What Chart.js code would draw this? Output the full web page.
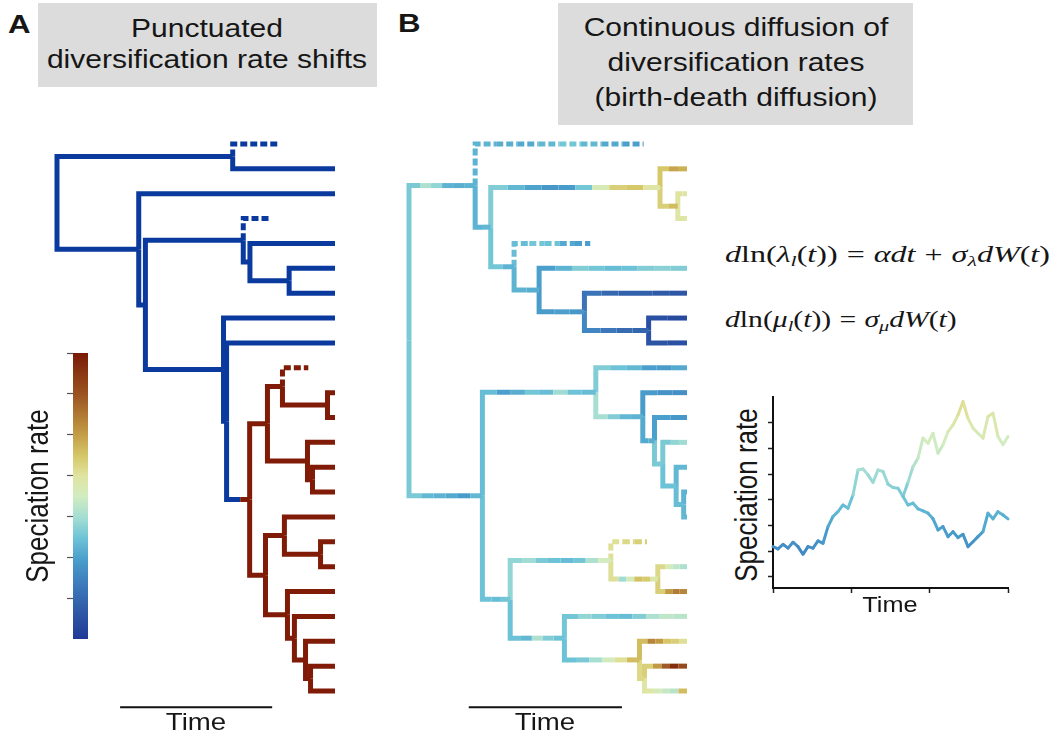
<!DOCTYPE html>
<html>
<head>
<meta charset="utf-8">
<title>Punctuated vs continuous diversification rates</title>
<script src="https://cdn.jsdelivr.net/npm/chart.js@4.4.1/dist/chart.umd.min.js"></script>
<style>
  html, body { margin: 0; padding: 0; background: #fff; }
  #fig { position: relative; width: 1055px; height: 737px; overflow: hidden; font-family: "Liberation Sans", Arial, sans-serif; color: #161616; }
  #fig canvas { position: absolute; }
  .box { position: absolute; background: #dcdcdc; }
  .lbl { position: absolute; white-space: nowrap; line-height: 1; }
  .panel { font-weight: bold; font-size: 26px; transform-origin: 0 0; transform: scaleX(1.2); }
  .title { font-size: 25px; text-align: center; transform: translateX(-50%) scaleX(1.2); }
  .ctr { transform: translateX(-50%) scaleX(1.15); }
  .vert { font-size: 26px; transform: translate(-50%, -50%) rotate(-90deg) scaleY(1.2); }
  .eq { font-family: "Liberation Serif", "DejaVu Serif", serif; font-size: 23px; transform-origin: 0 0; }
  .eq i { font-style: italic; }
  .eq sub { font-size: 0.68em; vertical-align: -0.25em; line-height: 0; }
  .eq .op { margin: 0 0.28em; }
</style>
</head>
<body>
<div id="fig">
  <div class="box" style="left:38px;top:3px;width:339px;height:84px"></div>
  <div class="box" style="left:558px;top:3px;width:355px;height:122px"></div>
  <div class="lbl panel" style="left:8px;top:11px">A</div>
  <div class="lbl panel" style="left:398px;top:10px">B</div>
  <div class="lbl title" style="left:207px;top:12.6px;line-height:31.5px">Punctuated<br>diversification rate shifts</div>
  <div class="lbl title" style="left:736px;top:10px;line-height:35px">Continuous diffusion of<br>diversification rates<br>(birth-death diffusion)</div>

  <canvas id="treeA" width="298" height="590" style="left:47px;top:134px"></canvas>
  <canvas id="treeB" width="298" height="590" style="left:399px;top:134px"></canvas>
  <canvas id="cbar" width="30" height="306" style="left:60px;top:343px"></canvas>
  <canvas id="inset" width="246" height="202" style="left:767px;top:392px"></canvas>

  <div class="lbl vert" style="left:37px;top:496px">Speciation rate</div>
  <div class="lbl vert" style="left:746px;top:495px">Speciation rate</div>
  <div class="lbl ctr" style="left:196px;top:710px;font-size:24px">Time</div>
  <div class="lbl ctr" style="left:545px;top:710px;font-size:24px">Time</div>
  <div class="lbl ctr" style="left:890px;top:594px;font-size:22px">Time</div>

  <div class="lbl eq" id="eq1" style="left:725px;top:242.7px"><i>d</i>ln(<i>λ</i><sub><i>l</i></sub>(<i>t</i>))<span class="op">=</span><i>αdt</i><span class="op">+</span><i>σ</i><sub><i>λ</i></sub><i>dW</i>(<i>t</i>)</div>
  <div class="lbl eq" id="eq2" style="left:725px;top:307.7px"><i>d</i>ln(<i>μ</i><sub><i>l</i></sub>(<i>t</i>))<span class="op">=</span><i>σ</i><sub><i>μ</i></sub><i>dW</i>(<i>t</i>)</div>
</div>

<script>
// ---- Panel A tree: parent of each node and its time (root = 0, present = 100)
const parentA = [-1, 0, 1, 1, 0, 4, 4, 6, 7, 7, 9, 9, 11, 11, 6, 14, 14, 16, 16, 18, 19, 20, 20, 22, 22, 19, 25, 25, 27, 27, 18, 30, 31, 31, 33, 33, 30, 36, 36, 38, 38, 40, 40, 42, 42];
const timeA = [0, 63.2, 79.6, 100, 29.4, 100, 31.8, 67.0, 76.4, 69.4, 100, 83.5, 100, 100, 59.9, 100, 61.0, 100, 69.3, 75.7, 81.1, 90.4, 97.3, 100, 100, 90.1, 100, 91.9, 100, 100, 75.0, 81.8, 100, 94.8, 100, 100, 82.9, 100, 85.4, 100, 89.4, 100, 91.2, 100, 100];
// 0 = background regime, 1 = shifted regime
const regimeA = [0, 0, 0, 0, 0, 0, 0, 0, 0, 0, 0, 0, 0, 0, 0, 0, 0, 0, 1, 1, 1, 1, 1, 1, 1, 1, 1, 1, 1, 1, 1, 1, 1, 1, 1, 1, 1, 1, 1, 1, 1, 1, 1, 1, 1];
const shiftNodeA = 18;
const shiftTimeA = 65.9;
const extinctA = [2, 8, 21];
const scaleBarA = [22.7, 77.4];

// ---- Panel B tree
const parentB = [-1, 0, 1, 1, 3, 4, 4, 6, 6, 3, 9, 9, 11, 11, 13, 13, 15, 15, 0, 18, 19, 19, 21, 21, 23, 23, 25, 25, 27, 27, 29, 29, 18, 32, 33, 33, 35, 35, 32, 38, 38, 40, 40, 42, 42];
const timeB = [0, 23.8, 84.4, 29.4, 90.3, 100, 96.7, 100, 100, 37.8, 65.2, 46.8, 100, 63.1, 100, 86.2, 100, 100, 26.4, 67.2, 100, 84.1, 100, 88.3, 100, 91.3, 100, 96.1, 100, 98.8, 100, 100, 36.4, 72.6, 85.6, 89.5, 100, 100, 55.9, 100, 82.9, 100, 84.7, 100, 100];
const extinctB = [2, 10, 34];
const scaleBarB = [21.5, 76.6];
// speciation rate (0 = lowest, 1 = highest) read along each branch, root to tip
const ratesB = [
  [],
  [0.37, 0.44, 0.40, 0.32, 0.31, 0.32],
  [0.32, 0.31, 0.30, 0.33, 0.36, 0.33, 0.30, 0.28],
  [0.32, 0.33],
  [0.38, 0.33, 0.29, 0.26, 0.27, 0.36, 0.52, 0.62, 0.64, 0.56],
  [0.64, 0.70, 0.68],
  [0.62, 0.66],
  [0.57, 0.56],
  [0.56, 0.56],
  [0.36, 0.32],
  [0.34, 0.36, 0.35, 0.30, 0.28],
  [0.32, 0.31],
  [0.28, 0.32, 0.38, 0.36, 0.34, 0.35, 0.38, 0.39, 0.38],
  [0.27, 0.28, 0.26],
  [0.17, 0.14, 0.12, 0.12, 0.10, 0.09],
  [0.22, 0.18, 0.15, 0.13],
  [0.07, 0.05],
  [0.08, 0.07],
  [0.37, 0.33, 0.32, 0.30, 0.27, 0.33],
  [0.34, 0.28, 0.31, 0.36, 0.34, 0.42, 0.35, 0.34],
  [0.38, 0.35, 0.33, 0.28, 0.27, 0.30],
  [0.43, 0.38, 0.33, 0.32],
  [0.27, 0.25, 0.24],
  [0.30, 0.31],
  [0.28, 0.26],
  [0.37],
  [0.37, 0.40, 0.42],
  [0.35],
  [0.33],
  [0.34],
  [0.32],
  [0.33],
  [0.35, 0.34, 0.36],
  [0.40, 0.42, 0.37, 0.35, 0.34, 0.36, 0.44, 0.50],
  [0.58, 0.60, 0.62],
  [0.58, 0.42, 0.52, 0.65, 0.63, 0.55],
  [0.60, 0.52, 0.47, 0.44],
  [0.62, 0.72, 0.78, 0.76],
  [0.35, 0.33, 0.44, 0.38, 0.35],
  [0.36, 0.40, 0.38, 0.35, 0.34, 0.38, 0.44, 0.47, 0.46],
  [0.35, 0.37, 0.43, 0.50, 0.58, 0.66],
  [0.66, 0.76, 0.72, 0.64, 0.62, 0.58],
  [0.60],
  [0.62, 0.72, 0.84, 0.95, 0.88],
  [0.56, 0.52, 0.48, 0.46, 0.66]
];

// ---- colour bar tick positions (fraction of the bar)
const cbarTicks = [1 / 7, 2 / 7, 3 / 7, 4 / 7, 5 / 7, 6 / 7, 1];

// ---- inset: speciation rate through time of two lineages
const insetTrunk = [2.18, 2.09, 2.27, 2.12, 2.35, 2.18, 1.88, 2.18, 2.12, 2.40, 2.31, 2.96, 3.35, 3.54, 3.80, 3.67, 4.19, 5.16, 5.20, 4.97, 4.68, 5.16, 5.10, 4.61, 4.48, 4.45, 4.13];
const insetLower = [3.80, 3.87, 3.65, 3.57, 3.48, 3.26, 2.83, 2.96, 2.57, 2.76, 2.53, 2.66, 2.18, 2.37, 2.57, 2.76, 3.48, 3.26, 3.54, 3.41, 3.26];
const insetUpper = [4.68, 5.29, 5.62, 6.40, 6.20, 6.59, 5.81, 6.14, 6.65, 6.91, 7.30, 7.82, 7.17, 6.79, 6.59, 6.40, 7.24, 7.37, 6.46, 6.14, 6.46];
const insetStep = 3 / 47;
const insetTimeTicks = [0, 1, 2, 3];
const insetRateTicks = [1, 2, 3, 4, 5, 6, 7];

// ---- colours
const blueA = '#0b3a9e';
const redA = '#7f1b06';
const cmapStops = [
  [0.00, [31, 58, 150]],
  [0.10, [47, 90, 168]],
  [0.20, [62, 126, 190]],
  [0.28, [74, 159, 204]],
  [0.35, [108, 194, 214]],
  [0.42, [160, 220, 212]],
  [0.50, [210, 236, 192]],
  [0.57, [224, 228, 160]],
  [0.64, [214, 199, 104]],
  [0.72, [194, 154, 68]],
  [0.85, [156, 86, 34]],
  [1.00, [122, 26, 4]]
];

function cmap(v) {
  v = Math.max(0, Math.min(1, v));
  for (let i = 1; i < cmapStops.length; i++) {
    const [p1, c1] = cmapStops[i];
    const [p0, c0] = cmapStops[i - 1];
    if (v <= p1) {
      const f = (v - p0) / (p1 - p0);
      const c = c0.map((a, k) => Math.round(a + (c1[k] - a) * f));
      return `rgb(${c[0]},${c[1]},${c[2]})`;
    }
  }
  return 'rgb(122,26,4)';
}

Chart.defaults.font.family = '"Liberation Sans", Arial, sans-serif';

// y of each node: tips get consecutive slots, inner nodes sit at the mean of their children
function layoutTree(parent) {
  const kids = parent.map(() => []);
  parent.forEach((p, i) => { if (p >= 0) kids[p].push(i); });
  const y = new Array(parent.length);
  let slot = 0;
  for (let i = 0; i < parent.length; i++) if (!kids[i].length) y[i] = slot++;
  for (let i = parent.length - 1; i >= 0; i--) {
    if (kids[i].length) y[i] = kids[i].reduce((s, k) => s + y[k], 0) / kids[i].length;
  }
  return { y, tips: slot };
}

function branchDataset(points, colors, dashed) {
  return {
    data: points,
    showLine: true,
    pointRadius: 0,
    borderWidth: 5,
    borderColor: colors[0],
    borderCapStyle: 'butt',
    borderJoinStyle: 'miter',
    borderDash: dashed ? [7, 3] : [],
    segment: { borderColor: ctx => colors[ctx.p0DataIndex] },
    clip: false,
    tension: 0
  };
}

function treeADatasets() {
  const { y } = layoutTree(parentA);
  const sets = [];
  parentA.forEach((p, i) => {
    if (p < 0) return;
    const pts = [{ x: timeA[p], y: y[p] }, { x: timeA[p], y: y[i] }];
    let cols;
    if (i === shiftNodeA) {
      pts.push({ x: shiftTimeA, y: y[i] }, { x: timeA[i], y: y[i] });
      cols = [blueA, blueA, redA];
    } else {
      pts.push({ x: timeA[i], y: y[i] });
      const c = regimeA[i] ? redA : blueA;
      cols = [c, c];
    }
    sets.push(branchDataset(pts, cols, extinctA.includes(i)));
  });
  return sets;
}

function treeBDatasets() {
  const { y } = layoutTree(parentB);
  const sets = [];
  parentB.forEach((p, i) => {
    if (p < 0) return;
    const r = ratesB[i];
    const pts = [{ x: timeB[p], y: y[p] }, { x: timeB[p], y: y[i] }];
    const len = timeB[i] - timeB[p];
    r.forEach((_, k) => pts.push({ x: timeB[p] + (k + 1) * len / r.length, y: y[i] }));
    const cols = [cmap(r[0])].concat(r.map(cmap));
    sets.push(branchDataset(pts, cols, extinctB.includes(i)));
  });
  return sets;
}

function scaleBar(range, tips) {
  return {
    data: [{ x: range[0], y: tips - 1 + 0.65 }, { x: range[1], y: tips - 1 + 0.65 }],
    showLine: true, pointRadius: 0, borderWidth: 2, borderColor: '#111',
    borderCapStyle: 'butt', clip: false
  };
}

const baseOptions = {
  responsive: false,
  animation: false,
  devicePixelRatio: 1,
  events: [],
  plugins: { legend: { display: false }, tooltip: { enabled: false } }
};

function treeChart(id, datasets, tips) {
  return new Chart(document.getElementById(id), {
    type: 'scatter',
    data: { datasets },
    options: {
      ...baseOptions,
      layout: { padding: { left: 10, right: 10, top: 10, bottom: 33 } },
      scales: {
        x: { type: 'linear', min: 0, max: 100, display: false },
        y: { type: 'linear', min: 0, max: tips - 1, reverse: true, display: false }
      }
    }
  });
}

treeChart('treeA', treeADatasets().concat([scaleBar(scaleBarA, layoutTree(parentA).tips)]), layoutTree(parentA).tips);
treeChart('treeB', treeBDatasets().concat([scaleBar(scaleBarB, layoutTree(parentB).tips)]), layoutTree(parentB).tips);

// colour bar
new Chart(document.getElementById('cbar'), {
  type: 'bar',
  data: {
    labels: [''],
    datasets: [{
      data: [[0, 1]],
      barPercentage: 1,
      categoryPercentage: 1,
      borderWidth: 0,
      backgroundColor: ctx => {
        const area = ctx.chart.chartArea;
        if (!area) return cmap(0.5);
        const g = ctx.chart.ctx.createLinearGradient(0, area.bottom, 0, area.top);
        cmapStops.forEach(([p]) => g.addColorStop(p, cmap(p)));
        return g;
      }
    }]
  },
  options: {
    ...baseOptions,
    layout: { padding: { top: 10, bottom: 10, right: 2, left: 0 } },
    scales: {
      x: { display: false },
      y: {
        min: 0, max: 1,
        afterBuildTicks: s => { s.ticks = cbarTicks.map(v => ({ value: v })); },
        afterFit: s => { s.width = 13; },
        ticks: { display: false },
        grid: { drawOnChartArea: false, drawTicks: true, tickLength: 6, tickColor: '#555', tickWidth: 1.2 },
        border: { display: false }
      }
    }
  }
});

// inset line chart
function rateColor(v) { return cmap(0.099 + 0.064 * v); }
function insetDataset(values, startIndex) {
  return {
    data: values.map((v, k) => ({ x: (startIndex + k) * insetStep, y: v })),
    showLine: true,
    pointRadius: 0,
    borderWidth: 3,
    borderColor: rateColor(values[0]),
    borderJoinStyle: 'round',
    borderCapStyle: 'round',
    segment: { borderColor: ctx => rateColor((ctx.p0.parsed.y + ctx.p1.parsed.y) / 2) },
    clip: false,
    tension: 0
  };
}

const insetAxis = {
  ticks: { display: false },
  grid: { drawOnChartArea: false, drawTicks: true, tickLength: 5, tickColor: '#222', tickWidth: 1.5 },
  border: { display: true, color: '#111', width: 2 }
};

new Chart(document.getElementById('inset'), {
  type: 'scatter',
  data: {
    datasets: [
      insetDataset(insetTrunk.concat(insetLower), 0),
      insetDataset([insetTrunk[insetTrunk.length - 1]].concat(insetUpper), insetTrunk.length - 1)
    ]
  },
  options: {
    ...baseOptions,
    layout: { padding: { top: 5, right: 5, left: 0, bottom: 0 } },
    scales: {
      x: {
        ...insetAxis, type: 'linear', min: 0, max: 3,
        afterBuildTicks: s => { s.ticks = insetTimeTicks.map(v => ({ value: v })); },
        afterFit: s => { s.height = 6; }
      },
      y: {
        ...insetAxis, type: 'linear', min: 0.57, max: 8,
        afterBuildTicks: s => { s.ticks = insetRateTicks.map(v => ({ value: v })); },
        afterFit: s => { s.width = 6; }
      }
    }
  }
});

// fit the equations to their width in the figure
[['eq1', 325], ['eq2', 232]].forEach(([id, w]) => {
  const el = document.getElementById(id);
  el.style.transform = `scaleX(${w / el.offsetWidth})`;
});
</script>
</body>
</html>
